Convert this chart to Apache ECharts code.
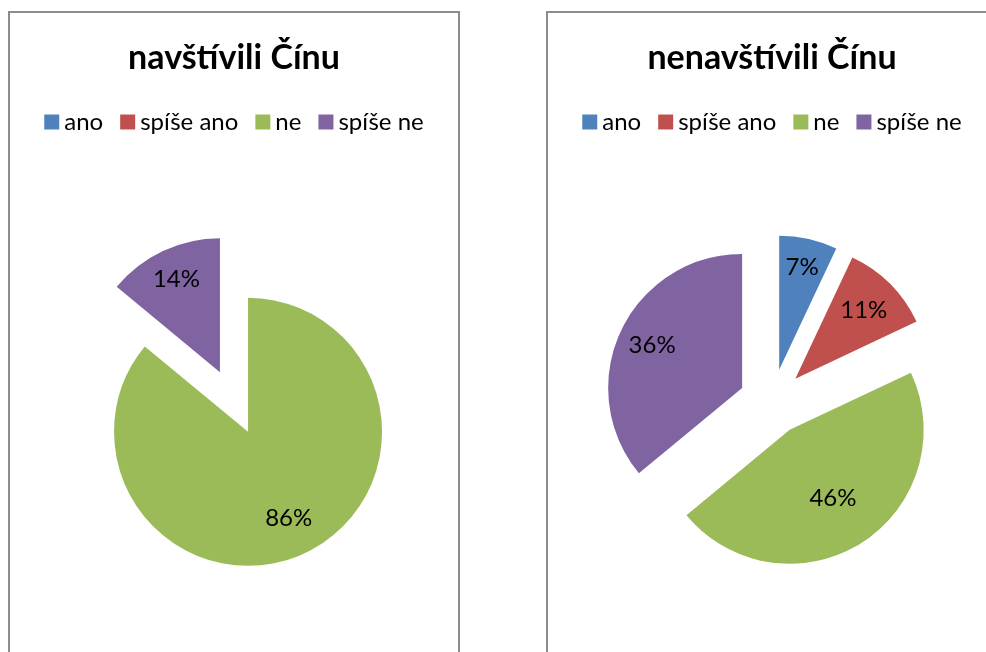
<!DOCTYPE html>
<html>
<head>
<meta charset="utf-8">
<script src="https://cdn.jsdelivr.net/npm/echarts@6/dist/echarts.min.js"></script>
<style>
    html, body { margin: 0; padding: 0; background: #fff; width: 986px; height: 652px; overflow: hidden; }
    .panel {
        position: absolute;
        top: 11px;
        width: 448px;
        height: 700px;
        border: 2px solid #8c8c8c;
        background: #fff;
    }
    .chart { width: 448px; height: 700px; }
</style>
</head>
<body>
<div class="panel" style="left: 8px;"><div id="chart-left" class="chart"></div></div>
<div class="panel" style="left: 546px;"><div id="chart-right" class="chart"></div></div>
<script>
// Categories and colours
const categories = ['ano', 'spíše ano', 'ne', 'spíše ne'];
const colors = ['#4F81BD', '#C0504D', '#9BBB59', '#8064A2'];

// Percent values per group
const visitedValues = [0, 0, 86, 14];
const notVisitedValues = [7, 11, 46, 36];

// Where the % label sits, as a share of the radius (Excel best-fit look)
const visitedLabelPos = [0.5, 0.5, 0.69, 0.74];
const notVisitedLabelPos = [0.76, 0.7, 0.58, 0.72];

const FONT = 'Lato, "Noto Sans", sans-serif';
const RADIUS = 134;

/**
 * Build one exploded pie panel
 */
function buildPie(el, title, values, labelPos) {
    const chart = echarts.init(el, null, { renderer: 'canvas' });
    const total = values.reduce((a, b) => a + b, 0);

    // mid angle (clockwise from 12 o'clock) for each slice
    let cum = 0;
    const midAngles = values.map(v => {
        const mid = (cum + v / 2) / total * Math.PI * 2;
        cum += v;
        return mid;
    });

    chart.setOption({
        animation: false,
        color: colors,
        title: {
            text: title,
            left: 'center',
            top: 23,
            textStyle: { fontFamily: FONT, fontSize: 34, fontWeight: 'bold', color: '#000' }
        },
        legend: {
            data: categories,
            left: 'center',
            top: 92,
            icon: 'rect',
            itemWidth: 15,
            itemHeight: 15,
            itemGap: 17,
            selectedMode: false,
            textStyle: { fontFamily: FONT, fontSize: 24, color: '#000' }
        },
        series: [{
            type: 'pie',
            center: ['50%', 389],
            radius: [0, RADIUS],
            startAngle: 90,
            clockwise: true,
            selectedMode: 'multiple',
            selectedOffset: 33,
            emphasis: { disabled: true },
            label: {
                position: 'inside',
                formatter: '{d}%',
                fontFamily: FONT,
                fontSize: 24,
                color: '#000'
            },
            labelLine: { show: false },
            labelLayout: (params) => {
                const i = params.dataIndex;
                const extra = (labelPos[i] - 0.5) * RADIUS;
                return {
                    dx: Math.sin(midAngles[i]) * extra,
                    dy: -Math.cos(midAngles[i]) * extra
                };
            },
            data: categories.map((name, i) => ({
                name: name,
                value: values[i],
                selected: true,
                label: { show: values[i] > 0 }
            }))
        }]
    });
    return chart;
}

buildPie(document.getElementById('chart-left'), 'navštívili Čínu', visitedValues, visitedLabelPos);
buildPie(document.getElementById('chart-right'), 'nenavštívili Čínu', notVisitedValues, notVisitedLabelPos);
</script>
</body>
</html>
